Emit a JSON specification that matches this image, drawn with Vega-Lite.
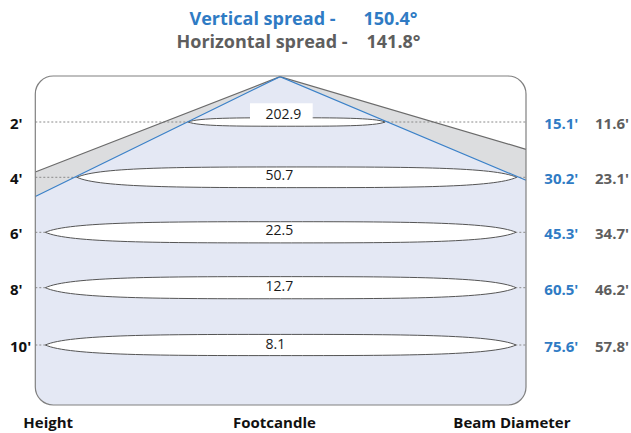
{
  "$schema": "https://vega.github.io/schema/vega-lite/v6.json",
  "width": 631,
  "height": 433,
  "autosize": {"type": "none"},
  "padding": 0,
  "background": "white",
  "config": {"view": {"stroke": null}},
  "datasets": {
    "frame": [{"left": 35.3, "right": 526, "top": 76, "bottom": 405}],
    "tag": [{"left": 250, "right": 312.7, "top": 103.3, "bottom": 119.3}],
    "beam": [
      {"x": 35.3, "v": 196.5, "h": 172},
      {"x": 280, "v": 76.7, "h": 76.7},
      {"x": 526, "v": 180.3, "h": 149.3}
    ],
    "levels": [
      {"ft": "2'", "y": 122, "cx": 286.7, "w": 196.7, "fc": "202.9", "ly": 115, "vd": "15.1'", "hd": "11.6'"},
      {"ft": "4'", "y": 177.3, "cx": 296.8, "w": 439.7, "fc": "50.7", "ly": 175.7, "vd": "30.2'", "hd": "23.1'"},
      {"ft": "6'", "y": 232.3, "cx": 280.7, "w": 470.7, "fc": "22.5", "ly": 231.3, "vd": "45.3'", "hd": "34.7'"},
      {"ft": "8'", "y": 287.7, "cx": 280.7, "w": 470.7, "fc": "12.7", "ly": 286.7, "vd": "60.5'", "hd": "46.2'"},
      {"ft": "10'", "y": 345, "cx": 280.7, "w": 470.7, "fc": "8.1", "ly": 344.5, "vd": "75.6'", "hd": "57.8'"}
    ],
    "titles": [
      {"t": "Vertical spread -", "x": 262.5, "y": 20, "c": "v"},
      {"t": "150.4°", "x": 390.5, "y": 20, "c": "v"},
      {"t": "Horizontal spread -", "x": 262, "y": 43, "c": "h"},
      {"t": "141.8°", "x": 393.5, "y": 43, "c": "h"}
    ],
    "captions": [
      {"t": "Height", "x": 23.3},
      {"t": "Footcandle", "x": 233},
      {"t": "Beam Diameter", "x": 453.3}
    ]
  },
  "layer": [
    {
      "data": {"name": "frame"},
      "mark": {"type": "rect", "cornerRadius": 18, "fill": "#e4e8f4", "strokeWidth": 0},
      "encoding": {
        "x": {"field": "left", "type": "quantitative", "scale": {"domain": [0, 631], "nice": false, "zero": false}, "axis": null},
        "x2": {"field": "right"},
        "y": {"field": "top", "type": "quantitative", "scale": {"domain": [0, 433], "reverse": true, "nice": false, "zero": false}, "axis": null},
        "y2": {"field": "bottom"}
      }
    },
    {
      "data": {"name": "beam"},
      "mark": {"type": "area", "fill": "white", "opacity": 1},
      "encoding": {
        "x": {"field": "x", "type": "quantitative", "axis": null},
        "y": {"field": "v", "type": "quantitative", "axis": null},
        "y2": {"datum": 70}
      }
    },
    {
      "data": {"name": "beam"},
      "mark": {"type": "area", "fill": "#dcdddf", "opacity": 1},
      "encoding": {
        "x": {"field": "x", "type": "quantitative", "axis": null},
        "y": {"field": "h", "type": "quantitative", "axis": null},
        "y2": {"field": "v"}
      }
    },
    {
      "data": {"name": "levels"},
      "mark": {"type": "rule", "strokeDash": [2, 2], "color": "#8a8a8a", "strokeWidth": 1},
      "encoding": {
        "x": {"datum": 35.3, "type": "quantitative", "axis": null},
        "x2": {"datum": 526},
        "y": {"field": "y", "type": "quantitative", "axis": null}
      }
    },
    {
      "data": {"name": "levels"},
      "mark": {"type": "point", "filled": true, "fill": "white", "stroke": "#555555", "strokeWidth": 1, "opacity": 1, "fillOpacity": 1, "strokeOpacity": 1},
      "encoding": {
        "x": {"field": "cx", "type": "quantitative", "axis": null},
        "y": {"field": "y", "type": "quantitative", "axis": null},
        "shape": {
          "field": "ft", "type": "nominal", "legend": null,
          "scale": {
            "domain": ["2'", "4'", "6'", "8'", "10'"],
            "range": [
              "M-1,0C-0.9,-0.043,-0.5,-0.043,0,-0.043C0.5,-0.043,0.9,-0.043,1,0C0.9,0.043,0.5,0.043,0,0.043C-0.5,0.043,-0.9,0.043,-1,0Z",
              "M-1,0C-0.9,-0.047,-0.5,-0.047,0,-0.047C0.5,-0.047,0.9,-0.047,1,0C0.9,0.047,0.5,0.047,0,0.047C-0.5,0.047,-0.9,0.047,-1,0Z",
              "M-1,0C-0.9,-0.045,-0.5,-0.045,0,-0.045C0.5,-0.045,0.9,-0.045,1,0C0.9,0.045,0.5,0.045,0,0.045C-0.5,0.045,-0.9,0.045,-1,0Z",
              "M-1,0C-0.9,-0.047,-0.5,-0.047,0,-0.047C0.5,-0.047,0.9,-0.047,1,0C0.9,0.047,0.5,0.047,0,0.047C-0.5,0.047,-0.9,0.047,-1,0Z",
              "M-1,0C-0.9,-0.045,-0.5,-0.045,0,-0.045C0.5,-0.045,0.9,-0.045,1,0C0.9,0.045,0.5,0.045,0,0.045C-0.5,0.045,-0.9,0.045,-1,0Z"
            ]
          }
        },
        "size": {
          "field": "w", "type": "quantitative", "legend": null,
          "scale": {"type": "pow", "exponent": 2, "domain": [0, 631], "range": [0, 398161]}
        }
      }
    },
    {
      "data": {"name": "beam"},
      "mark": {"type": "line", "color": "#6b6b6b", "strokeWidth": 1.2},
      "encoding": {
        "x": {"field": "x", "type": "quantitative", "axis": null},
        "y": {"field": "h", "type": "quantitative", "axis": null}
      }
    },
    {
      "data": {"name": "beam"},
      "mark": {"type": "line", "color": "#3a80c8", "strokeWidth": 1.2},
      "encoding": {
        "x": {"field": "x", "type": "quantitative", "axis": null},
        "y": {"field": "v", "type": "quantitative", "axis": null}
      }
    },
    {
      "data": {"name": "frame"},
      "mark": {"type": "rect", "cornerRadius": 18, "fill": null, "fillOpacity": 0, "stroke": "#808080", "strokeWidth": 1.2},
      "encoding": {
        "x": {"field": "left", "type": "quantitative", "axis": null},
        "x2": {"field": "right"},
        "y": {"field": "top", "type": "quantitative", "axis": null},
        "y2": {"field": "bottom"}
      }
    },
    {
      "data": {"name": "tag"},
      "mark": {"type": "rect", "fill": "white", "strokeWidth": 0},
      "encoding": {
        "x": {"field": "left", "type": "quantitative", "axis": null},
        "x2": {"field": "right"},
        "y": {"field": "top", "type": "quantitative", "axis": null},
        "y2": {"field": "bottom"}
      }
    },
    {
      "data": {"name": "levels"},
      "mark": {"type": "text", "align": "left", "baseline": "middle", "font": "Open Sans", "fontSize": 14, "color": "#1a1a1a"},
      "encoding": {
        "x": {"datum": 265.5, "type": "quantitative", "axis": null},
        "y": {"field": "ly", "type": "quantitative", "axis": null},
        "text": {"field": "fc"}
      }
    },
    {
      "data": {"name": "levels"},
      "mark": {"type": "text", "align": "left", "baseline": "middle", "dy": 2, "font": "Open Sans", "fontSize": 15, "fontWeight": "bold", "color": "#111111"},
      "encoding": {
        "x": {"datum": 10, "type": "quantitative", "axis": null},
        "y": {"field": "y", "type": "quantitative", "axis": null},
        "text": {"field": "ft"}
      }
    },
    {
      "data": {"name": "levels"},
      "mark": {"type": "text", "align": "left", "baseline": "middle", "dy": 2, "font": "Open Sans", "fontSize": 15, "fontWeight": "bold", "color": "#2f7bc4"},
      "encoding": {
        "x": {"datum": 544.3, "type": "quantitative", "axis": null},
        "y": {"field": "y", "type": "quantitative", "axis": null},
        "text": {"field": "vd"}
      }
    },
    {
      "data": {"name": "levels"},
      "mark": {"type": "text", "align": "left", "baseline": "middle", "dy": 2, "font": "Open Sans", "fontSize": 15, "fontWeight": "bold", "color": "#5e5e5e"},
      "encoding": {
        "x": {"datum": 595, "type": "quantitative", "axis": null},
        "y": {"field": "y", "type": "quantitative", "axis": null},
        "text": {"field": "hd"}
      }
    },
    {
      "data": {"name": "titles"},
      "mark": {"type": "text", "align": "center", "baseline": "middle", "font": "Open Sans", "fontSize": 18, "fontWeight": "bold"},
      "encoding": {
        "x": {"field": "x", "type": "quantitative", "axis": null},
        "y": {"field": "y", "type": "quantitative", "axis": null},
        "text": {"field": "t"},
        "color": {"field": "c", "type": "nominal", "legend": null, "scale": {"domain": ["v", "h"], "range": ["#2f7bc4", "#5e5e5e"]}}
      }
    },
    {
      "data": {"name": "captions"},
      "mark": {"type": "text", "align": "left", "baseline": "middle", "font": "Open Sans", "fontSize": 15, "fontWeight": "bold", "color": "#111111"},
      "encoding": {
        "x": {"field": "x", "type": "quantitative", "axis": null},
        "y": {"datum": 423, "type": "quantitative", "axis": null},
        "text": {"field": "t"}
      }
    }
  ]
}
